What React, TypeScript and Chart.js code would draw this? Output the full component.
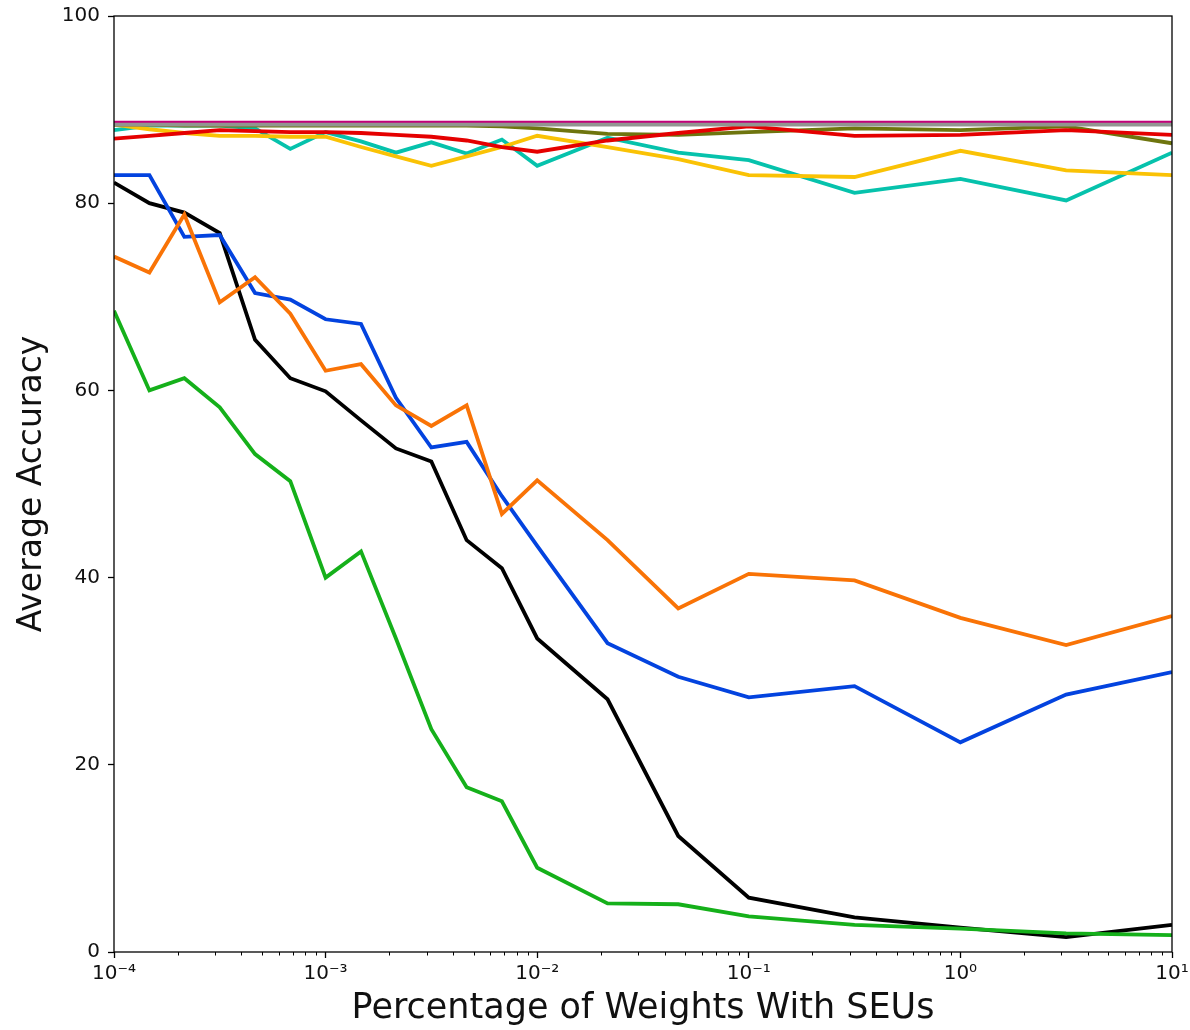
import React, { useEffect, useRef } from 'react';
import { Chart, registerables } from 'chart.js';
Chart.register(...registerables);

const xValues = [0.0001, 0.000147, 0.000215, 0.000316, 0.000464, 0.000681, 0.001, 0.00147, 0.00215, 0.00316, 0.00464, 0.00681, 0.01, 0.0215, 0.0464, 0.1, 0.316, 1, 3.16, 10];

const blackSeries = [82.2, 80.0, 79.0, 76.8, 65.4, 61.3, 59.9, 56.8, 53.8, 52.4, 44.0, 41.0, 33.5, 27.0, 12.4, 5.8, 3.7, 2.6, 1.6, 2.9];
const blueSeries = [83.0, 83.0, 76.4, 76.6, 70.4, 69.7, 67.6, 67.1, 59.2, 53.9, 54.5, 48.7, 43.4, 33.0, 29.4, 27.2, 28.4, 22.4, 27.5, 29.9];
const orangeSeries = [74.3, 72.6, 78.8, 69.4, 72.1, 68.2, 62.1, 62.8, 58.4, 56.2, 58.4, 46.8, 50.4, 44.0, 36.7, 40.4, 39.7, 35.7, 32.8, 35.9];
const greenSeries = [68.5, 60.0, 61.3, 58.2, 53.2, 50.3, 40.0, 42.8, 33.5, 23.8, 17.6, 16.1, 9.0, 5.2, 5.1, 3.8, 2.9, 2.5, 2.0, 1.8];
const tealSeries = [87.8, 88.3, 88.3, 88.3, 88.0, 85.8, 87.6, 86.6, 85.4, 86.5, 85.3, 86.8, 84.0, 87.0, 85.4, 84.6, 81.1, 82.6, 80.3, 85.4];
const yellowSeries = [88.4, 87.9, 87.5, 87.2, 87.2, 87.1, 87.1, 86.0, 85.0, 84.0, 85.0, 86.0, 87.2, 86.0, 84.7, 83.0, 82.8, 85.6, 83.5, 83.0];
const oliveSeries = [88.4, 88.4, 88.3, 88.3, 88.3, 88.3, 88.3, 88.3, 88.3, 88.3, 88.3, 88.2, 88.0, 87.4, 87.3, 87.6, 88.0, 87.8, 88.2, 86.4];
const redSeries = [86.9, 87.2, 87.5, 87.8, 87.7, 87.6, 87.6, 87.5, 87.3, 87.1, 86.7, 86.0, 85.5, 86.7, 87.5, 88.2, 87.2, 87.3, 87.8, 87.3];
const magentaSeries = [88.6, 88.6, 88.6, 88.6, 88.6, 88.6, 88.6, 88.6, 88.6, 88.6, 88.6, 88.6, 88.6, 88.6, 88.6, 88.6, 88.6, 88.6, 88.6, 88.6];
const greySeries = [88.4, 88.4, 88.4, 88.4, 88.4, 88.4, 88.4, 88.4, 88.4, 88.4, 88.4, 88.4, 88.4, 88.4, 88.4, 88.4, 88.4, 88.4, 88.4, 88.4];

const xTickValues = [0.0001, 0.001, 0.01, 0.1, 1, 10];
const xTickLabels = ['10\u207B\u2074', '10\u207B\u00B3', '10\u207B\u00B2', '10\u207B\u00B9', '10\u2070', '10\u00B9'];
const yTickValues = [0, 20, 40, 60, 80, 100];

const xTitle = 'Percentage of Weights With SEUs';
const yTitle = 'Average Accuracy';

// drawn bottom to top
const seriesList = [
  { values: blackSeries, color: '#000000' },
  { values: blueSeries, color: '#0343df' },
  { values: greenSeries, color: '#15b01a' },
  { values: orangeSeries, color: '#f97306' },
  { values: tealSeries, color: '#06c2ac' },
  { values: yellowSeries, color: '#fac205' },
  { values: oliveSeries, color: '#6e750e' },
  { values: redSeries, color: '#e50000' },
  { values: magentaSeries, color: '#c20078' },
  { values: greySeries, color: '#929591' },
];

const framePlugin = {
  id: 'frame',
  afterDraw(chart: any) {
    const { ctx, chartArea } = chart;
    const xs = chart.scales.x;
    ctx.save();
    ctx.strokeStyle = '#000';
    ctx.lineWidth = 1.3;
    ctx.strokeRect(chartArea.left, chartArea.top, chartArea.right - chartArea.left, chartArea.bottom - chartArea.top);
    ctx.lineWidth = 1;
    for (let d = -4; d <= 0; d++) {
      for (let m = 2; m <= 9; m++) {
        const v = m * Math.pow(10, d);
        const px = Math.round(xs.getPixelForValue(v)) + 0.5;
        ctx.beginPath();
        ctx.moveTo(px, chartArea.bottom);
        ctx.lineTo(px, chartArea.bottom + 3.5);
        ctx.stroke();
      }
    }
    ctx.restore();
  },
};

export default function App() {
  const ref = useRef<HTMLCanvasElement | null>(null);
  useEffect(() => {
    document.body.style.margin = '0';
    const canvas = ref.current;
    if (!canvas) return;
    const chart = new Chart(canvas, {
      type: 'line',
      data: {
        datasets: seriesList.map((s, i) => ({
          data: xValues.map((x, j) => ({ x, y: s.values[j] })),
          borderColor: s.color,
          backgroundColor: s.color,
          borderWidth: 3.8,
          pointRadius: 0,
          fill: false,
          tension: 0,
          order: seriesList.length - i,
        })),
      },
      options: {
        animation: false,
        responsive: false,
        maintainAspectRatio: false,
        layout: { padding: { left: 0, right: 18, top: 16, bottom: 0 } },
        plugins: { legend: { display: false }, tooltip: { enabled: false } },
        scales: {
          x: {
            type: 'logarithmic',
            min: 0.0001,
            max: 10,
            afterBuildTicks: (scale: any) => {
              scale.ticks = xTickValues.map((v) => ({ value: v, major: true }));
            },
            afterFit: (scale: any) => {
              scale.height = 78;
              scale.paddingLeft = 0;
              scale.paddingRight = 0;
            },
            grid: { drawOnChartArea: false, drawTicks: true, tickLength: 6, tickColor: '#000', tickWidth: 1.3 },
            border: { display: false },
            ticks: {
              autoSkip: false,
              maxRotation: 0,
              padding: 4,
              color: '#111',
              font: { family: 'DejaVu Sans', size: 20 },
              callback: (v: any) => {
                const idx = xTickValues.findIndex((t) => Math.abs(Math.log10(t) - Math.log10(Number(v))) < 1e-6);
                return idx >= 0 ? xTickLabels[idx] : '';
              },
            },
            title: {
              display: true,
              text: xTitle,
              color: '#111',
              font: { family: 'DejaVu Sans', size: 35 },
              padding: { top: 0, bottom: 0 },
            },
          },
          y: {
            type: 'linear',
            min: 0,
            max: 100,
            afterBuildTicks: (scale: any) => {
              scale.ticks = yTickValues.map((v) => ({ value: v }));
            },
            afterFit: (scale: any) => {
              scale.width = 114;
              scale.paddingTop = 0;
              scale.paddingBottom = 0;
            },
            grid: { drawOnChartArea: false, drawTicks: true, tickLength: 6, tickColor: '#000', tickWidth: 1.3 },
            border: { display: false },
            ticks: {
              padding: 8,
              color: '#111',
              font: { family: 'DejaVu Sans', size: 20 },
            },
            title: {
              display: true,
              text: yTitle,
              color: '#111',
              font: { family: 'DejaVu Sans', size: 33 },
              padding: { top: 13, bottom: 0 },
            },
          },
        },
      },
      plugins: [framePlugin],
    });
    return () => chart.destroy();
  }, []);
  return (
    <div style={{ width: 1190, height: 1030, background: '#fff' }}>
      <canvas ref={ref} width={1190} height={1030} style={{ display: 'block' }} />
    </div>
  );
}
